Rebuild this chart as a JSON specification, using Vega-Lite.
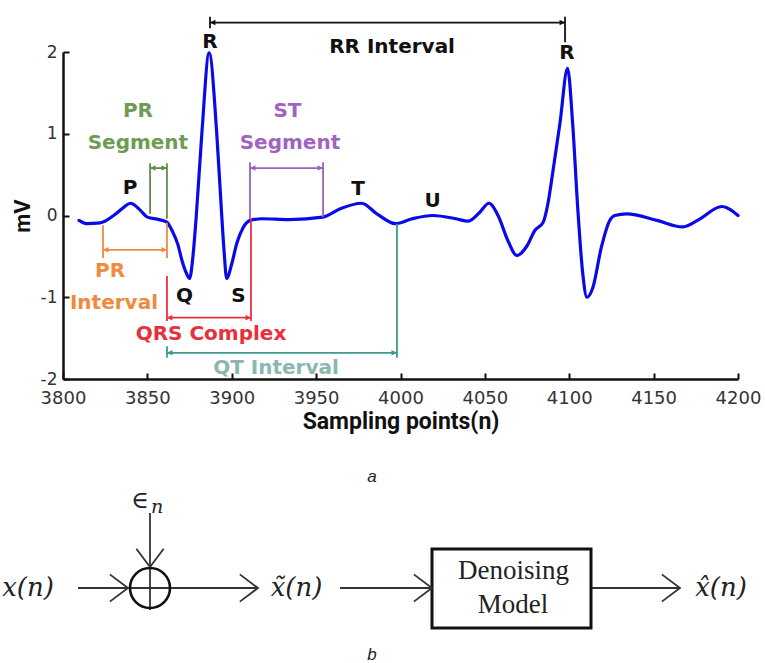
{
  "$schema": "https://vega.github.io/schema/vega-lite/v6.json",
  "width": 675,
  "height": 327,
  "autosize": {"type": "none"},
  "padding": {"left": 63, "top": 52, "right": 27, "bottom": 284},
  "background": "white",
  "config": {
    "view": {"stroke": null},
    "axis": {
      "grid": false,
      "domainColor": "#111111",
      "domainWidth": 2.5,
      "tickColor": "#111111",
      "tickWidth": 2,
      "tickSize": -6,
      "labelFont": "DejaVu Sans",
      "labelFontSize": 18,
      "labelColor": "#333333",
      "labelFlush": false,
      "labelOverlap": false,
      "titleFont": "Roboto",
      "titleFontWeight": "bold",
      "titleColor": "#111111"
    }
  },
  "datasets": {
    "ecg": [
      {"n": 3809.5, "mv": -0.06}, {"n": 3814, "mv": -0.1}, {"n": 3822, "mv": -0.09}, {"n": 3830, "mv": 0.0},
      {"n": 3836, "mv": 0.1}, {"n": 3840, "mv": 0.15}, {"n": 3846, "mv": 0.06}, {"n": 3850, "mv": -0.02},
      {"n": 3857, "mv": -0.05}, {"n": 3861.5, "mv": -0.08}, {"n": 3865, "mv": -0.2}, {"n": 3868, "mv": -0.35},
      {"n": 3870.5, "mv": -0.55}, {"n": 3873, "mv": -0.7}, {"n": 3875, "mv": -0.77}, {"n": 3877, "mv": -0.5},
      {"n": 3879, "mv": 0.0}, {"n": 3882.4, "mv": 1.04}, {"n": 3886.6, "mv": 1.99}, {"n": 3891, "mv": 1.04},
      {"n": 3894, "mv": 0.02}, {"n": 3895.5, "mv": -0.45}, {"n": 3897, "mv": -0.77}, {"n": 3900, "mv": -0.59},
      {"n": 3903, "mv": -0.34}, {"n": 3906.7, "mv": -0.15}, {"n": 3911, "mv": -0.06}, {"n": 3918, "mv": -0.04},
      {"n": 3934, "mv": -0.05}, {"n": 3954, "mv": -0.02}, {"n": 3964, "mv": 0.08}, {"n": 3977, "mv": 0.15},
      {"n": 3986, "mv": 0.02}, {"n": 3997, "mv": -0.1}, {"n": 4007, "mv": -0.04}, {"n": 4019, "mv": 0.0},
      {"n": 4033, "mv": -0.04}, {"n": 4040, "mv": -0.07}, {"n": 4047, "mv": 0.04}, {"n": 4052.4, "mv": 0.15},
      {"n": 4057.8, "mv": 0.0}, {"n": 4063.7, "mv": -0.31}, {"n": 4069, "mv": -0.49}, {"n": 4075, "mv": -0.37},
      {"n": 4079.7, "mv": -0.18}, {"n": 4084.4, "mv": -0.09}, {"n": 4087.4, "mv": 0.15}, {"n": 4090.4, "mv": 0.55},
      {"n": 4094.5, "mv": 1.13}, {"n": 4099, "mv": 1.8}, {"n": 4102, "mv": 1.13}, {"n": 4105, "mv": 0.1},
      {"n": 4108, "mv": -0.71}, {"n": 4110.5, "mv": -1.0}, {"n": 4114, "mv": -0.88}, {"n": 4119, "mv": -0.39},
      {"n": 4124, "mv": -0.06}, {"n": 4127, "mv": 0.0}, {"n": 4134, "mv": 0.02}, {"n": 4152, "mv": -0.06},
      {"n": 4167, "mv": -0.14}, {"n": 4176, "mv": -0.06}, {"n": 4190.5, "mv": 0.11}, {"n": 4200, "mv": 0.0}
    ],
    "spans": [
      {"group": "RR", "n": 3887.1, "n2": 4097.5, "mv": 2.36, "mv2": 2.36},
      {"group": "RR", "n": 3887.1, "n2": 3887.1, "mv": 2.29, "mv2": 2.43},
      {"group": "RR", "n": 4097.5, "n2": 4097.5, "mv": 2.12, "mv2": 2.43},
      {"group": "PR Segment", "n": 3851.6, "n2": 3851.6, "mv": 0.02, "mv2": 0.64},
      {"group": "PR Segment", "n": 3861.6, "n2": 3861.6, "mv": -0.04, "mv2": 0.64},
      {"group": "PR Segment", "n": 3851.6, "n2": 3861.6, "mv": 0.58, "mv2": 0.58},
      {"group": "ST Segment", "n": 3910.8, "n2": 3910.8, "mv": -0.04, "mv2": 0.65},
      {"group": "ST Segment", "n": 3954.1, "n2": 3954.1, "mv": -0.02, "mv2": 0.65},
      {"group": "ST Segment", "n": 3910.8, "n2": 3954.1, "mv": 0.58, "mv2": 0.58},
      {"group": "PR Interval", "n": 3823.7, "n2": 3823.7, "mv": -0.12, "mv2": -0.52},
      {"group": "PR Interval", "n": 3861.6, "n2": 3861.6, "mv": -0.09, "mv2": -0.52},
      {"group": "PR Interval", "n": 3823.7, "n2": 3861.6, "mv": -0.42, "mv2": -0.42},
      {"group": "QRS Complex", "n": 3861.6, "n2": 3861.6, "mv": -0.74, "mv2": -1.29},
      {"group": "QRS Complex", "n": 3911.4, "n2": 3911.4, "mv": -0.04, "mv2": -1.29},
      {"group": "QRS Complex", "n": 3861.6, "n2": 3911.4, "mv": -1.25, "mv2": -1.25},
      {"group": "QT Interval", "n": 3861.6, "n2": 3861.6, "mv": -1.6, "mv2": -1.74},
      {"group": "QT Interval", "n": 3997.9, "n2": 3997.9, "mv": -0.1, "mv2": -1.74},
      {"group": "QT Interval", "n": 3861.6, "n2": 3997.9, "mv": -1.68, "mv2": -1.68}
    ],
    "tips": [
      {"group": "RR", "n": 3887.1, "mv": 2.36, "dir": "left"},
      {"group": "RR", "n": 4097.5, "mv": 2.36, "dir": "right"},
      {"group": "PR Segment", "n": 3851.6, "mv": 0.58, "dir": "left"},
      {"group": "PR Segment", "n": 3861.6, "mv": 0.58, "dir": "right"},
      {"group": "ST Segment", "n": 3910.8, "mv": 0.58, "dir": "left"},
      {"group": "ST Segment", "n": 3954.1, "mv": 0.58, "dir": "right"},
      {"group": "PR Interval", "n": 3823.7, "mv": -0.42, "dir": "left"},
      {"group": "PR Interval", "n": 3861.6, "mv": -0.42, "dir": "right"},
      {"group": "QRS Complex", "n": 3861.6, "mv": -1.25, "dir": "left"},
      {"group": "QRS Complex", "n": 3911.4, "mv": -1.25, "dir": "right"},
      {"group": "QT Interval", "n": 3861.6, "mv": -1.68, "dir": "left"},
      {"group": "QT Interval", "n": 3997.9, "mv": -1.68, "dir": "right"}
    ],
    "labels": [
      {"group": "wave", "text": "R", "n": 3887.1, "mv": 2.12},
      {"group": "wave", "text": "R", "n": 4098.7, "mv": 1.99},
      {"group": "wave", "text": "P", "n": 3839.7, "mv": 0.34},
      {"group": "wave", "text": "T", "n": 3974.8, "mv": 0.32},
      {"group": "wave", "text": "U", "n": 4019, "mv": 0.18},
      {"group": "wave", "text": "Q", "n": 3872, "mv": -0.98},
      {"group": "wave", "text": "S", "n": 3904, "mv": -0.98},
      {"group": "RR", "text": "RR Interval", "n": 3995, "mv": 2.06},
      {"group": "PR Segment", "text": "PR", "n": 3844.4, "mv": 1.28},
      {"group": "PR Segment", "text": "Segment", "n": 3844.4, "mv": 0.89},
      {"group": "ST Segment", "text": "ST", "n": 3933, "mv": 1.28},
      {"group": "ST Segment", "text": "Segment", "n": 3934.5, "mv": 0.89},
      {"group": "PR Interval", "text": "PR", "n": 3827.9, "mv": -0.68},
      {"group": "PR Interval", "text": "Interval", "n": 3830.2, "mv": -1.07},
      {"group": "QRS Complex", "text": "QRS Complex", "n": 3887.7, "mv": -1.45},
      {"group": "QT Interval", "text": "QT Interval", "n": 3926.2, "mv": -1.86}
    ],
    "dmarks": [
      {"kind": "line", "u": 15, "u2": 195, "v": 125, "v2": 125},
      {"kind": "line", "u": 87, "u2": 87, "v": 50, "v2": 147},
      {"kind": "line", "u": 277, "u2": 369, "v": 125, "v2": 125},
      {"kind": "line", "u": 528, "u2": 617, "v": 125, "v2": 125},
      {"kind": "box", "u": 369, "u2": 528, "v": 86, "v2": 165},
      {"kind": "sum", "u": 87, "v": 125},
      {"kind": "head", "u": 65, "v": 125, "dir": "right"},
      {"kind": "head", "u": 195, "v": 125, "dir": "right"},
      {"kind": "head", "u": 369, "v": 125, "dir": "right"},
      {"kind": "head", "u": 617, "v": 125, "dir": "right"},
      {"kind": "head", "u": 87, "v": 104, "dir": "down"}
    ],
    "dtext": [
      {"style": "math", "text": "x(n)", "u": -35, "v": 125},
      {"style": "math", "text": "x\u0303(n)", "u": 233.5, "v": 125},
      {"style": "math", "text": "x\u0302(n)", "u": 658, "v": 125},
      {"style": "eps", "text": "\u2208", "u": 77, "v": 38},
      {"style": "sub", "text": "n", "u": 94, "v": 44},
      {"style": "box", "text": "Denoising", "u": 450.5, "v": 108},
      {"style": "box", "text": "Model", "u": 450, "v": 142},
      {"style": "caption", "text": "a", "u": 309, "v": 19},
      {"style": "caption", "text": "b", "u": 309, "v": 197}
    ]
  },
  "layer": [
    {
      "layer": [
        {
          "data": {"name": "ecg"},
          "mark": {"type": "line", "color": "#0a0ae8", "strokeWidth": 3.2, "interpolate": "monotone", "strokeCap": "round", "strokeJoin": "round"},
          "encoding": {
            "x": {"field": "n", "type": "quantitative", "title": "Sampling points(n)",
                  "scale": {"domain": [3800, 4200], "nice": false, "zero": false},
                  "axis": {"values": [3800, 3850, 3900, 3950, 4000, 4050, 4100, 4150, 4200], "format": "d", "labelPadding": 16, "titlePadding": 3, "titleFontSize": 23}},
            "y": {"field": "mv", "type": "quantitative", "title": "mV",
                  "scale": {"domain": [-2, 2], "nice": false, "zero": false},
                  "axis": {"values": [-2, -1, 0, 1, 2], "format": "d", "labelExpr": "replace(datum.label, '\u2212', '-')", "labelPadding": 12, "labelFontSize": 17, "titleFontSize": 22,
                           "titleX": -41, "titleY": 163.5, "titleAngle": -90, "titleAlign": "center", "titleBaseline": "middle"}}
          }
        },
        {
          "data": {"name": "spans"},
          "mark": {"type": "rule", "strokeWidth": 1.8},
          "encoding": {
            "x": {"field": "n", "type": "quantitative", "title": "Sampling points(n)"},
            "x2": {"field": "n2"},
            "y": {"field": "mv", "type": "quantitative", "title": "mV"},
            "y2": {"field": "mv2"},
            "color": {"field": "group", "type": "nominal", "legend": null,
                      "scale": {"domain": ["RR", "PR Segment", "ST Segment", "PR Interval", "QRS Complex", "QT Interval"],
                                "range": ["#111111", "#5f8f45", "#9a62b8", "#f08a3c", "#e8303c", "#3c9a8e"]}}
          }
        },
        {
          "data": {"name": "tips"},
          "mark": {"type": "point", "filled": true, "size": 30, "opacity": 1},
          "encoding": {
            "x": {"field": "n", "type": "quantitative", "title": "Sampling points(n)"},
            "y": {"field": "mv", "type": "quantitative", "title": "mV"},
            "shape": {"field": "dir", "type": "nominal", "legend": null,
                      "scale": {"domain": ["left", "right"], "range": ["M0,0L2,-1L2,1Z", "M0,0L-2,-1L-2,1Z"]}},
            "color": {"field": "group", "type": "nominal", "legend": null,
                      "scale": {"domain": ["RR", "PR Segment", "ST Segment", "PR Interval", "QRS Complex", "QT Interval"],
                                "range": ["#111111", "#5f8f45", "#9a62b8", "#f08a3c", "#e8303c", "#3c9a8e"]}}
          }
        },
        {
          "data": {"name": "labels"},
          "mark": {"type": "text", "font": "DejaVu Sans", "fontWeight": "bold", "fontSize": 20, "align": "center", "baseline": "middle"},
          "encoding": {
            "x": {"field": "n", "type": "quantitative", "title": "Sampling points(n)"},
            "y": {"field": "mv", "type": "quantitative", "title": "mV"},
            "text": {"field": "text"},
            "color": {"field": "group", "type": "nominal", "legend": null,
                      "scale": {"domain": ["wave", "RR", "PR Segment", "ST Segment", "PR Interval", "QRS Complex", "QT Interval"],
                                "range": ["#111111", "#111111", "#6e9c52", "#a064c0", "#f08a3c", "#e8303c", "#8ab8b0"]}}
          }
        }
      ],
      "resolve": {"scale": {"color": "independent", "shape": "independent"}}
    },
    {
      "layer": [
        {
          "data": {"name": "dmarks"},
          "transform": [{"filter": "datum.kind === 'line'"}],
          "mark": {"type": "rule", "color": "#333333", "strokeWidth": 1.8},
          "encoding": {
            "x": {"field": "u", "type": "quantitative", "axis": null, "scale": {"domain": [0, 675], "nice": false, "zero": false}},
            "x2": {"field": "u2"},
            "y": {"field": "v", "type": "quantitative", "axis": null, "scale": {"domain": [-411, -84], "nice": false, "zero": false, "reverse": true}},
            "y2": {"field": "v2"}
          }
        },
        {
          "data": {"name": "dmarks"},
          "transform": [{"filter": "datum.kind === 'box'"}],
          "mark": {"type": "rect", "fill": "white", "stroke": "#111111", "strokeWidth": 3},
          "encoding": {
            "x": {"field": "u", "type": "quantitative", "axis": null},
            "x2": {"field": "u2"},
            "y": {"field": "v", "type": "quantitative", "axis": null},
            "y2": {"field": "v2"}
          }
        },
        {
          "data": {"name": "dmarks"},
          "transform": [{"filter": "datum.kind === 'sum'"}],
          "mark": {"type": "point", "shape": "circle", "size": 1600, "filled": false, "stroke": "#111111", "strokeWidth": 2.6, "opacity": 1},
          "encoding": {
            "x": {"field": "u", "type": "quantitative", "axis": null},
            "y": {"field": "v", "type": "quantitative", "axis": null}
          }
        },
        {
          "data": {"name": "dmarks"},
          "transform": [{"filter": "datum.kind === 'head'"}],
          "mark": {"type": "point", "size": 676, "filled": false, "stroke": "#333333", "strokeWidth": 1.8, "opacity": 1},
          "encoding": {
            "x": {"field": "u", "type": "quantitative", "axis": null},
            "y": {"field": "v", "type": "quantitative", "axis": null},
            "shape": {"field": "dir", "type": "nominal", "legend": null,
                      "scale": {"domain": ["right", "down"], "range": ["M-1.4,-1.05L0,0L-1.4,1.05", "M-1.05,-1.4L0,0L1.05,-1.4"]}}
          }
        },
        {
          "data": {"name": "dtext"},
          "transform": [{"filter": "datum.style === 'math'"}],
          "mark": {"type": "text", "font": "DejaVu Serif", "fontStyle": "italic", "fontSize": 26, "align": "center", "baseline": "middle", "color": "#222222"},
          "encoding": {
            "x": {"field": "u", "type": "quantitative", "axis": null},
            "y": {"field": "v", "type": "quantitative", "axis": null},
            "text": {"field": "text"}
          }
        },
        {
          "data": {"name": "dtext"},
          "transform": [{"filter": "datum.style === 'eps'"}],
          "mark": {"type": "text", "font": "DejaVu Serif", "fontSize": 24, "align": "center", "baseline": "middle", "color": "#222222"},
          "encoding": {
            "x": {"field": "u", "type": "quantitative", "axis": null},
            "y": {"field": "v", "type": "quantitative", "axis": null},
            "text": {"field": "text"}
          }
        },
        {
          "data": {"name": "dtext"},
          "transform": [{"filter": "datum.style === 'sub'"}],
          "mark": {"type": "text", "font": "DejaVu Serif", "fontStyle": "italic", "fontSize": 19, "align": "center", "baseline": "middle", "color": "#222222"},
          "encoding": {
            "x": {"field": "u", "type": "quantitative", "axis": null},
            "y": {"field": "v", "type": "quantitative", "axis": null},
            "text": {"field": "text"}
          }
        },
        {
          "data": {"name": "dtext"},
          "transform": [{"filter": "datum.style === 'box'"}],
          "mark": {"type": "text", "font": "Liberation Serif", "fontSize": 27, "align": "center", "baseline": "middle", "color": "#222222"},
          "encoding": {
            "x": {"field": "u", "type": "quantitative", "axis": null},
            "y": {"field": "v", "type": "quantitative", "axis": null},
            "text": {"field": "text"}
          }
        },
        {
          "data": {"name": "dtext"},
          "transform": [{"filter": "datum.style === 'caption'"}],
          "mark": {"type": "text", "font": "Liberation Sans", "fontStyle": "italic", "fontSize": 17, "align": "center", "baseline": "alphabetic", "color": "#222222"},
          "encoding": {
            "x": {"field": "u", "type": "quantitative", "axis": null},
            "y": {"field": "v", "type": "quantitative", "axis": null},
            "text": {"field": "text"}
          }
        }
      ]
    }
  ],
  "resolve": {"scale": {"x": "independent", "y": "independent", "color": "independent", "shape": "independent"}}
}
